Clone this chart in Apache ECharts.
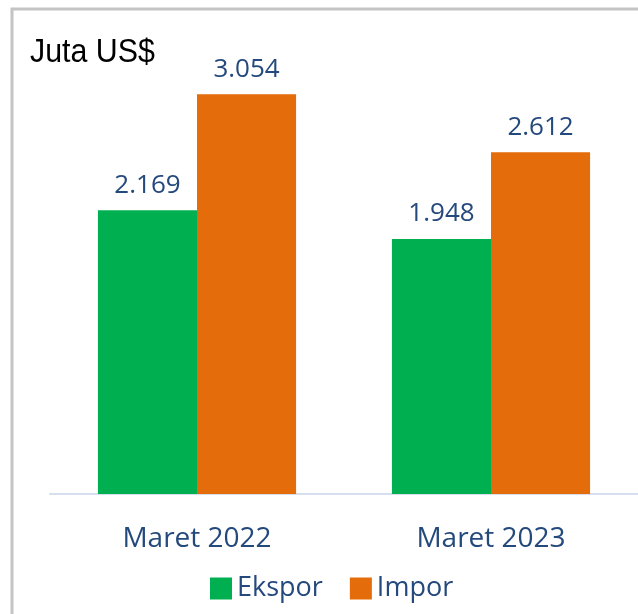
<!DOCTYPE html>
<html>
<head>
<meta charset="utf-8">
<script src="https://cdn.jsdelivr.net/npm/echarts@6/dist/echarts.min.js"></script>
<style>
  html, body { margin: 0; padding: 0; background: #fff; }
  #chart { width: 638px; height: 614px; }
</style>
</head>
<body>
<div id="chart"></div>
<script>
// data
const categories = ['Maret 2022', 'Maret 2023'];
const ekspor = [2.169, 1.948];
const impor = [3.054, 2.612];
const seriesNames = ['Ekspor', 'Impor'];

const labelStyle = {
  show: true,
  position: 'top',
  distance: 12,
  color: '#24497c',
  fontSize: 26,
  fontFamily: 'Open Sans',
  formatter: (p) => p.value.toFixed(3)
};

const myChart = echarts.init(document.getElementById('chart'));
myChart.setOption({
  animation: false,
  graphic: [
    {
      type: 'rect',
      shape: { x: 12, y: 9, width: 700, height: 700 },
      style: { fill: 'none', stroke: '#c4c4c4', lineWidth: 3 }
    },
    {
      type: 'text',
      x: 30,
      y: 36,
      scaleX: 0.92,
      style: { text: 'Juta US$', fill: '#000', fontSize: 33, fontFamily: 'Liberation Sans' }
    }
  ],
  grid: { left: 50, right: 0, top: 36, height: 458 },
  legend: {
    bottom: 7,
    left: 205,
    itemWidth: 22,
    itemHeight: 22,
    itemGap: 27,
    icon: 'rect',
    textStyle: { color: '#24497c', fontSize: 27, fontFamily: 'Open Sans' },
    data: seriesNames
  },
  xAxis: {
    type: 'category',
    data: categories,
    axisLine: { lineStyle: { color: '#d5dfee', width: 2 } },
    axisTick: { show: false },
    axisLabel: { color: '#24497c', fontSize: 28, fontFamily: 'Open Sans', margin: 31 }
  },
  yAxis: {
    type: 'value',
    min: 0,
    max: 3.5,
    show: false
  },
  series: [
    {
      name: seriesNames[0],
      type: 'bar',
      data: ekspor,
      barGap: '0%',
      barCategoryGap: '32.6%',
      itemStyle: { color: '#00b050' },
      label: labelStyle
    },
    {
      name: seriesNames[1],
      type: 'bar',
      data: impor,
      itemStyle: { color: '#e46c0a' },
      label: labelStyle
    }
  ]
});
window.onresize = function () {
  myChart.resize();
};
</script>
</body>
</html>
